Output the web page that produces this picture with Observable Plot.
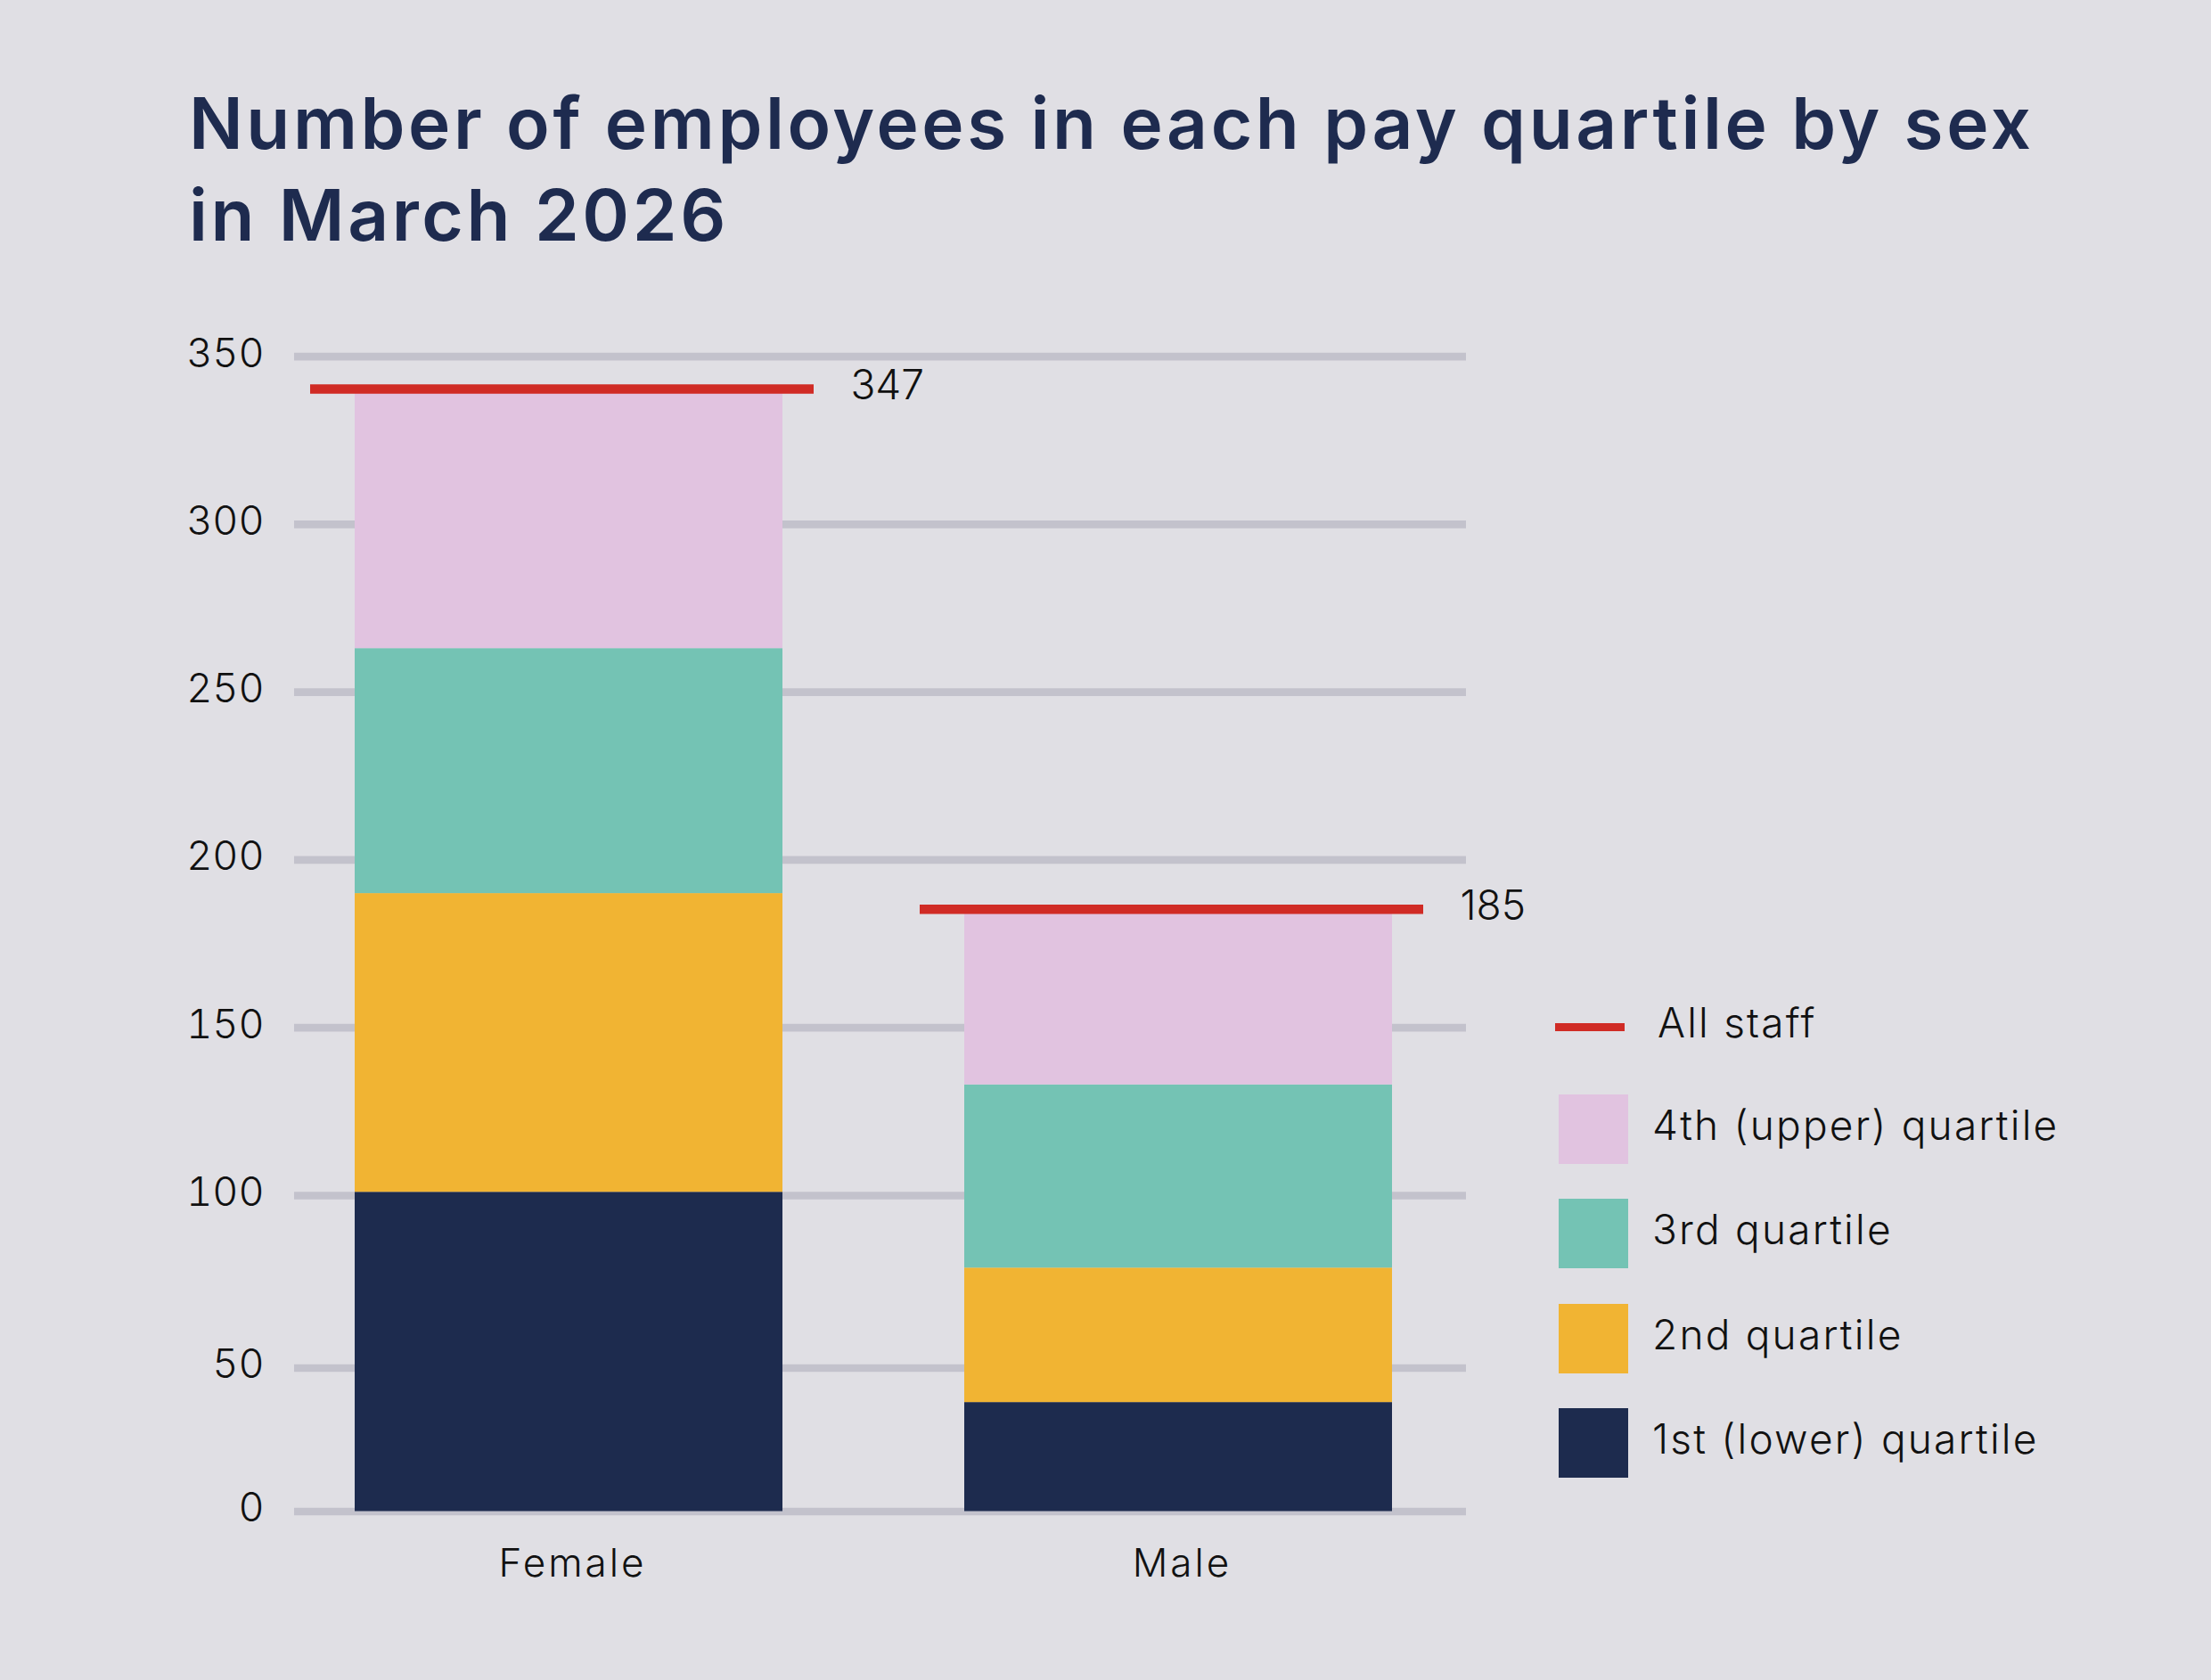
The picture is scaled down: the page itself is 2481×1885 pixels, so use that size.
<!DOCTYPE html>
<html>
<head>
<meta charset="utf-8">
<script src="https://cdn.jsdelivr.net/npm/d3@7"></script>
<script src="https://cdn.jsdelivr.net/npm/@observablehq/plot@0.6"></script>
<style>
  html, body { margin: 0; padding: 0; background: #e0dfe4; }
  #page { position: relative; width: 2481px; height: 1885px; overflow: hidden; background: #e0dfe4; font-family: Inter, Lato, sans-serif; font-variant-ligatures: none; }
  #title { position: absolute; left: 212px; top: 86px; margin: 0; font-size: 80px; line-height: 103px; font-weight: 600; letter-spacing: 3.6px; color: #1e2b4f; white-space: nowrap; }
  #chart { position: absolute; left: 0; top: 330px; }
  #legend { position: absolute; left: 1745px; top: 1096px; color: #111; font-size: 46px; font-weight: 300; letter-spacing: 2.2px; }
  .row { display: flex; align-items: center; height: 117.5px; }
  .row:first-child { height: 112px; }
  .line { width: 78px; height: 9px; background: #d02b25; }
  .sw { width: 78px; height: 78px; margin-left: 4px; }
  .lab { position: relative; top: -5px; line-height: 1; white-space: nowrap; }
  #chart g[aria-label="x-axis tick label"] { letter-spacing: 3px; }
</style>
</head>
<body>
<div id="page">
  <div id="title">Number of employees in each pay quartile by sex<br>in March 2026</div>
  <div id="chart"></div>
  <div id="legend"></div>
</div>
<script>
// ---- data ----
const sexes = ["Female", "Male"];
const quartiles = ["1st (lower) quartile", "2nd quartile", "3rd quartile", "4th (upper) quartile"];
const femaleCounts = [101, 89, 73, 76];
const maleCounts = [38, 41, 54, 51];
const totalLabels = [347, 185];
const totalName = "All staff";
const yTicks = [0, 50, 100, 150, 200, 250, 300, 350];
const quartileColors = ["#1d2b4e", "#f1b433", "#74c3b4", "#e1c3e0"];
const totalColor = "#d02b25";

// ---- tables ----
const counts = [femaleCounts, maleCounts];
const rows = sexes.flatMap((sex, i) => quartiles.map((quartile, j) => ({sex, quartile, count: counts[i][j]})));
const totals = sexes.map((sex, i) => ({sex, top: d3.sum(counts[i]), label: String(totalLabels[i])}));

// ---- layout ----
const T = 330;            // svg top offset on page
const W = 1740, H = 1555;
const baseY = 1695.5 - T, topY = 399.6 - T;
// the reference's vertical axis is drawn with uneven gridline spacing at the bottom
const yWarp = d3.scaleLinear().domain([0, 50, 100, 350]).range([0, 161, 354.5, baseY - topY]);

const chart = Plot.plot({
  width: W,
  height: H,
  marginLeft: 330,
  marginRight: W - 1645,
  marginTop: topY,
  marginBottom: H - baseY,
  style: {background: "transparent", fontFamily: "Inter, Lato, sans-serif", color: "#111", overflow: "visible"},
  x: {domain: sexes, paddingInner: 0.298, paddingOuter: 0.109, align: 0.453, label: null},
  y: {transform: v => yWarp(v), label: null},
  color: {domain: quartiles, range: quartileColors},
  marks: [
    Plot.ruleY(yTicks, {stroke: "#c3c2cc", strokeWidth: 8.7}),
    Plot.barY(rows, {x: "sex", y: "count", fill: "quartile"}),
    Plot.tickY(totals, {x: "sex", y: "top", stroke: totalColor, strokeWidth: 10.5, dy: -5, insetLeft: -50, insetRight: -35}),
    Plot.text(totals, {x: "sex", y: "top", text: "label", textAnchor: "start", dx: 316, dy: -8, fontSize: 46, fontWeight: 300, fill: "#111"}),
    Plot.axisY(yTicks, {tickSize: 0, tickPadding: 34, fontSize: 45, fontWeight: 300, dy: -3, label: null}),
    Plot.axisX({tickSize: 0, tickPadding: 42, fontSize: 44, fontWeight: 300, dx: 4, label: null})
  ]
});
document.getElementById("chart").appendChild(chart);

// ---- legend ----
const legend = d3.select("#legend");
const r0 = legend.append("div").attr("class", "row");
r0.append("div").attr("class", "line");
r0.append("div").attr("class", "lab").style("margin-left", "37px").text(totalName);
quartiles.slice().reverse().forEach(q => {
  const r = legend.append("div").attr("class", "row");
  r.append("div").attr("class", "sw").style("background", quartileColors[quartiles.indexOf(q)]);
  r.append("div").attr("class", "lab").style("margin-left", "27px").text(q);
});
</script>
</body>
</html>
